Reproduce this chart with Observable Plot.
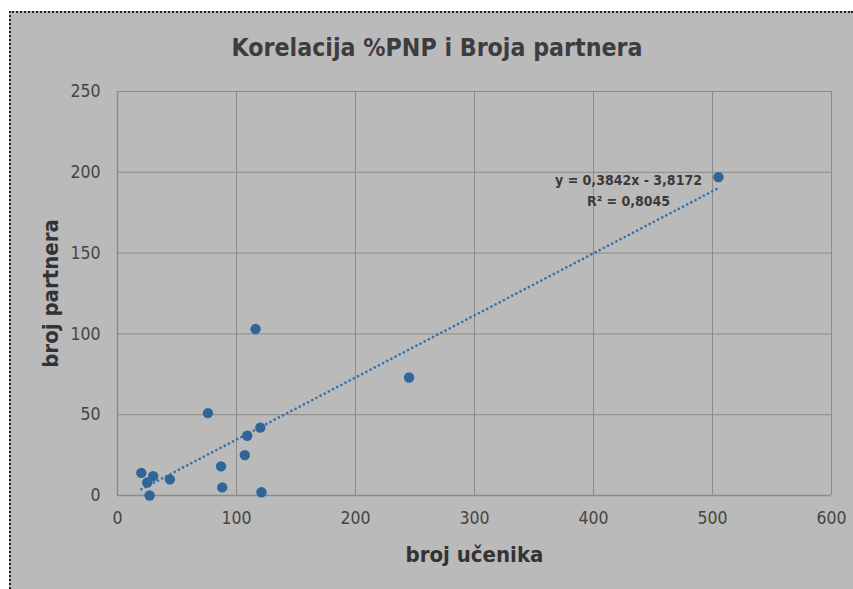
<!DOCTYPE html>
<html>
<head>
<meta charset="utf-8">
<script src="https://cdn.jsdelivr.net/npm/d3@7"></script>
<script src="https://cdn.jsdelivr.net/npm/@observablehq/plot@0.6"></script>
<style>
  html, body { margin: 0; padding: 0; background: #ffffff; width: 853px; height: 589px; overflow: hidden; }
  #box { position: absolute; left: 9px; top: 11px; width: 844px; height: 578px; background: #bababa;
         border-top: 2px dotted #222; border-left: 2px dotted #222; box-sizing: border-box; }
  #title { position: absolute; left: 0; top: 33px; width: 874px; text-align: center;
           font-family: "Liberation Sans Narrow", "DejaVu Sans Condensed", sans-serif; font-weight: bold;
           font-size: 24.7px; color: #3d3d3d; }
  #chart { position: absolute; left: 0; top: 0; }
  #chart svg { background: transparent; }
</style>
</head>
<body>
<div id="box"></div>
<div id="title">Korelacija %PNP i Broja partnera</div>
<div id="chart"></div>
<script>
const brojUcenika  = [20, 25, 30, 27, 44, 76, 87, 88, 107, 109, 120, 121, 116, 245, 505];
const brojPartnera = [14,  8, 12,  0, 10, 51, 18,  5,  25,  37,  42,   2, 103,  73, 197];
const xTicks = [0, 100, 200, 300, 400, 500, 600];
const yTicks = [0, 50, 100, 150, 200, 250];
const slope = 0.3842;
const intercept = -3.8172;
const r2 = 0.8045;

const points = brojUcenika.map((x, i) => ({x, y: brojPartnera[i]}));
const xExtent = d3.extent(brojUcenika);
const trend = xExtent.map(x => ({x, y: slope * x + intercept}));
const fmt = v => String(v).replace(".", ",");
const eqText = `y = ${fmt(slope)}x - ${fmt(Math.abs(intercept))}\nR² = ${fmt(r2)}`;

const font = '"Liberation Sans Narrow", "DejaVu Sans Condensed", sans-serif';
const grid = "#8b8b8b";

const chart = Plot.plot({
  width: 853,
  height: 589,
  marginLeft: 117,
  marginRight: 22,
  marginTop: 91,
  marginBottom: 94,
  style: {fontFamily: font, background: "transparent", color: "#404040"},
  x: {domain: [0, 600], ticks: xTicks},
  y: {domain: [0, 250], ticks: yTicks},
  marks: [
    Plot.gridX(xTicks, {stroke: grid, strokeOpacity: 1, strokeWidth: 1}),
    Plot.gridY(yTicks, {stroke: grid, strokeOpacity: 1, strokeWidth: 1}),
    Plot.ruleX([0], {stroke: grid, strokeWidth: 1.5}),
    Plot.ruleY([0], {stroke: grid, strokeWidth: 1.5}),
    Plot.axisX({ticks: xTicks, tickSize: 0, tickPadding: 16, fontSize: 17.5, fill: "#454545", label: null}),
    Plot.axisY({ticks: yTicks, tickSize: 0, tickPadding: 17, fontSize: 17.5, fill: "#454545", label: null}),
    Plot.axisX({ticks: [], label: "broj učenika", labelAnchor: "center", labelArrow: "none", labelOffset: 66, fontSize: 22, fontWeight: "bold", fill: "#333"}),
    Plot.axisY({ticks: [], label: "broj partnera", labelAnchor: "center", labelArrow: "none", labelOffset: 75, fontSize: 22, fontWeight: "bold", fill: "#333"}),
    Plot.line(trend, {x: "x", y: "y", stroke: "#3571a8", strokeWidth: 2.6, strokeDasharray: "0.1 4.6", strokeLinecap: "round"}),
    Plot.dot(points, {x: "x", y: "y", r: 5.2, fill: "#2f6699", stroke: "none"}),
    Plot.text([eqText], {frameAnchor: "top-right", dx: -203, dy: 97, textAnchor: "middle", lineAnchor: "middle", lineHeight: 1.5, fontSize: 14, fontWeight: "bold", fill: "#3b3b3b"})
  ]
});
document.getElementById("chart").appendChild(chart);
</script>
</body>
</html>
